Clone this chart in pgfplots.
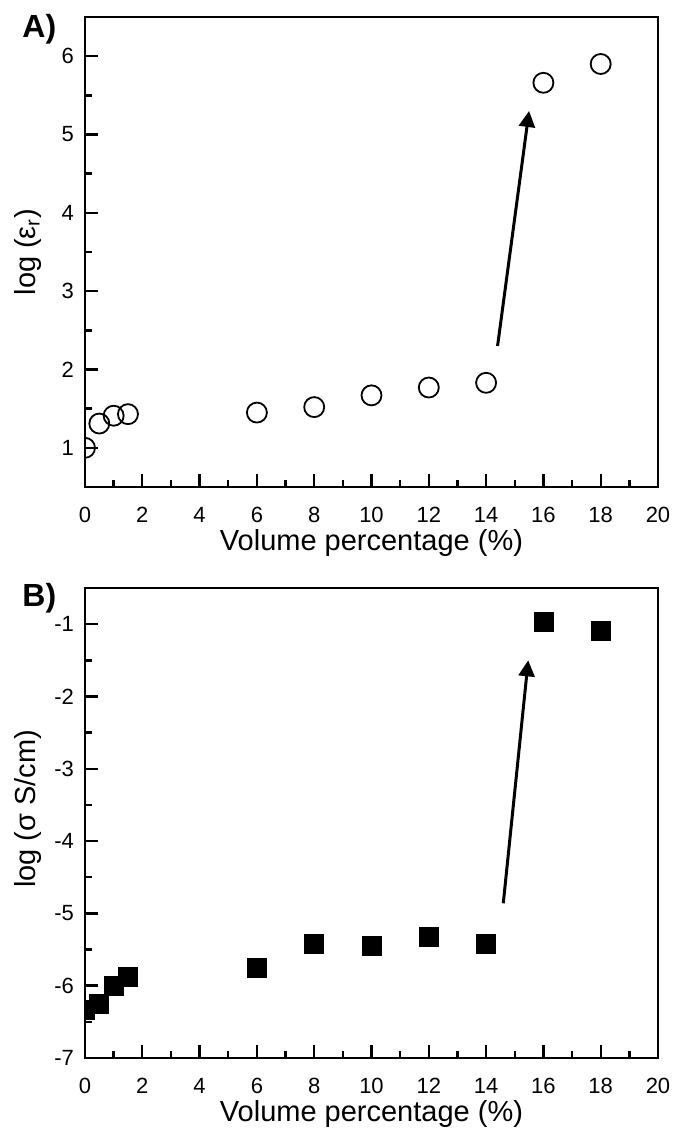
\documentclass[border=0pt]{standalone}
\usepackage{fontspec}
\setmainfont{Liberation Sans}
\usepackage{pgfplots}
\pgfplotsset{compat=1.18}
\usetikzlibrary{arrows.meta}

\newcommand{\tickfont}{\fontsize{11}{13}\selectfont}
\newcommand{\labfont}{\fontsize{14.5}{17}\selectfont}

\pgfplotsset{
  panel/.style={
    scale only axis, width=286.5pt, height=235pt,
    xmin=0, xmax=20, xtick={0,2,...,20}, minor x tick num=1,
    minor y tick num=1,
    xtick pos=bottom, ytick pos=left, tick align=inside,
    major tick length=6.5pt, minor tick length=3.5pt,
    every tick/.style={line width=1.2pt, black},
    axis line style={line width=1.2pt},
    clip marker paths=true,
    xticklabel style={font=\tickfont, yshift=-6.5pt},
    yticklabel style={font=\tickfont, xshift=-2pt},
    /pgf/number format/assume math mode=true,
    every axis x label/.style={at={(axis description cs:0.5,-0.12)}, anchor=center, font=\labfont},
    every axis y label/.style={at={(axis description cs:-0.1,0.5)}, anchor=center, rotate=90, font=\labfont},
    xlabel={Volume percentage (\%)},
  },
}

\begin{document}
\begin{tikzpicture}
\useasboundingbox (-42.5pt,-36.5pt) rectangle (295pt,529pt);

% (A) permittivity
\begin{axis}[panel, name=pa, at={(0,285.5pt)}, anchor=south west,
  ymin=0.5, ymax=6.5, ytick={1,2,...,6},
  ylabel={log (ε\textsubscript{r})}]
\addplot[only marks, mark=o, mark size=5pt, mark options={line width=0.9pt, fill=white}] coordinates {
  (0,1.00) (0.5,1.31) (1,1.41) (1.5,1.43) (6,1.45) (8,1.52)
  (10,1.67) (12,1.77) (14,1.83) (16,5.66) (18,5.90)
};
\draw[line width=1.5pt, -{Triangle[length=8pt,width=8pt]}] (axis cs:14.4,2.3) -- (axis cs:15.5,5.3);
\end{axis}

% (B) conductivity
\begin{axis}[panel, name=pb, at={(0,0)}, anchor=south west,
  ymin=-7, ymax=-0.5, ytick={-7,-6,...,-1},
  yticklabels={-7,-6,-5,-4,-3,-2,-1},
  every axis y label/.style={at={(axis description cs:-0.1,0.53)}, anchor=center, rotate=90, font=\labfont},
  ylabel={log (σ S/cm)}]
\addplot[only marks, mark=square*, mark size=4.75pt, mark options={black}] coordinates {
  (0,-6.33) (0.5,-6.25) (1,-6.00) (1.5,-5.88) (6,-5.75) (8,-5.42)
  (10,-5.45) (12,-5.33) (14,-5.42) (16,-0.97) (18,-1.10)
};
\draw[line width=1.5pt, -{Triangle[length=8pt,width=8pt]}] (axis cs:14.6,-4.86) -- (axis cs:15.47,-1.5);
\end{axis}

\node[anchor=west, font=\fontsize{16}{19}\selectfont\bfseries, inner sep=0pt] at ([xshift=-31.5pt,yshift=-6pt]pa.north west) {A)};
\node[anchor=west, font=\fontsize{16}{19}\selectfont\bfseries, inner sep=0pt] at ([xshift=-31.5pt,yshift=-5pt]pb.north west) {B)};
\end{tikzpicture}
\end{document}
